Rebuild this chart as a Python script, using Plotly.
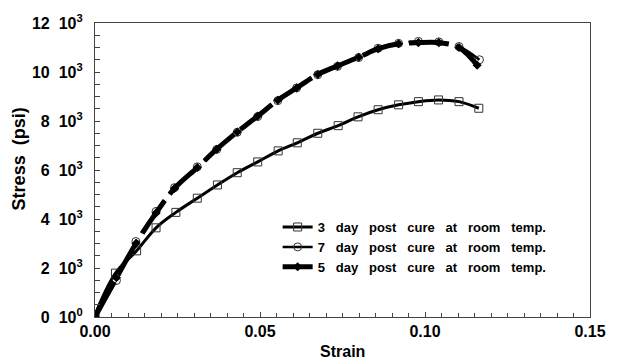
import plotly.graph_objects as go

# ---- data ----
strain_3day = [0, 0.0062, 0.0126, 0.0185, 0.0245, 0.0310, 0.0371, 0.0431, 0.0493, 0.0555,
               0.0613, 0.0675, 0.0737, 0.0797, 0.0858, 0.0920, 0.0980, 0.1041, 0.1103, 0.1163]
stress_3day = [0.1, 1.79, 2.70, 3.64, 4.27, 4.85, 5.39, 5.89, 6.33, 6.78,
               7.11, 7.50, 7.81, 8.17, 8.46, 8.66, 8.79, 8.86, 8.79, 8.52]

strain_7day = [0, 0.0065, 0.0124, 0.0185, 0.0241, 0.0310, 0.0369, 0.0431, 0.0493, 0.0554,
               0.0611, 0.0675, 0.0735, 0.0799, 0.0858, 0.0920, 0.0980, 0.1042, 0.1103, 0.1165]
stress_7day = [0, 1.49, 3.08, 4.31, 5.28, 6.13, 6.84, 7.54, 8.18, 8.83,
               9.35, 9.89, 10.23, 10.59, 10.97, 11.17, 11.25, 11.23, 11.04, 10.50]

strain_5day = [0, 0.0065, 0.0124, 0.0185, 0.0241, 0.0310, 0.0369, 0.0431, 0.0493, 0.0554,
               0.0611, 0.0675, 0.0735, 0.0799, 0.0858, 0.0920, 0.0980, 0.1042, 0.1103, 0.1158]
stress_5day = [0, 1.60, 3.00, 4.25, 5.25, 6.10, 6.85, 7.55, 8.20, 8.85,
               9.35, 9.90, 10.25, 10.60, 10.95, 11.15, 11.20, 11.20, 11.00, 10.28]

labels = ["3 day post cure at room temp.",
          "7 day post cure at room temp.",
          "5 day post cure at room temp."]

x_ticks = [0, 0.05, 0.10, 0.15]
y_ticks = [0, 2, 4, 6, 8, 10, 12]
y_ticktext = ["0\u00a0\u00a010<sup>0</sup>"] + [f"{v}\u00a0\u00a010<sup>3</sup>" for v in y_ticks[1:]]

FONT = "Liberation Sans, Arial, sans-serif"
sp = "\u00a0\u00a0\u00a0"

def lab(s):
    return s.replace(" ", sp)

fig = go.Figure()
fig.add_trace(go.Scatter(
    x=strain_3day, y=stress_3day, name=lab(labels[0]), mode="lines+markers",
    line=dict(color="black", width=3, shape="spline"),
    marker=dict(symbol="square-open", size=8, color="#333", line=dict(width=1)),
))
fig.add_trace(go.Scatter(
    x=strain_7day, y=stress_7day, name=lab(labels[1]), mode="lines+markers",
    line=dict(color="black", width=2.5, shape="spline", dash="40px,8px"),
    marker=dict(symbol="circle-open", size=8, color="#333", line=dict(width=1)),
))
fig.add_trace(go.Scatter(
    x=strain_5day, y=stress_5day, name=lab(labels[2]), mode="lines+markers",
    line=dict(color="black", width=5, shape="spline", dash="40px,8px"),
    marker=dict(symbol="diamond", size=7, color="black"),
))

fig.update_layout(
    width=618, height=364,
    margin=dict(l=95, r=16, t=19, b=47),
    paper_bgcolor="white", plot_bgcolor="white",
    font=dict(family=FONT, color="black"),
    showlegend=True,
    legend=dict(
        x=0.369, y=0.357, xanchor="left", yanchor="top",
        bgcolor="rgba(0,0,0,0)", font=dict(size=13, family=FONT, weight="bold"),
        tracegroupgap=0, itemwidth=30,
    ),
    xaxis=dict(
        range=[0, 0.15], tickvals=x_ticks, tickformat=".2f",
        ticks="inside", ticklen=5, tickcolor="#444", tickwidth=1,
        minor=dict(dtick=0.005, tick0=0, ticks="inside", ticklen=4, tickcolor="#444", tickwidth=1),
        showline=True, linecolor="#444", linewidth=1.2, mirror=True,
        showgrid=False, zeroline=False,
        tickfont=dict(size=16, family=FONT, weight="bold"),
        ticklabelstandoff=0,
    ),
    yaxis=dict(
        range=[0, 12], tickvals=y_ticks, ticktext=y_ticktext, tickmode="array",
        ticks="inside", ticklen=5, tickcolor="#444", tickwidth=1,
        minor=dict(dtick=0.5, tick0=0, ticks="inside", ticklen=5, tickcolor="#444", tickwidth=1),
        showline=True, linecolor="#444", linewidth=1.2, mirror=True,
        showgrid=False, zeroline=False,
        tickfont=dict(size=16, family=FONT, weight="bold"),
        ticklabelstandoff=8,
    ),
    annotations=[
        dict(text="Strain", xref="paper", yref="paper", x=0.5, y=-0.117,
             xanchor="center", yanchor="middle", showarrow=False,
             font=dict(size=16, family=FONT, weight="bold")),
        dict(text="Stress\u00a0\u00a0(psi)", xref="paper", yref="paper", x=-0.153, y=0.537,
             xanchor="center", yanchor="middle", showarrow=False, textangle=-90,
             font=dict(size=18, family=FONT, weight="bold")),
    ],
)

fig.write_html("out.html")
